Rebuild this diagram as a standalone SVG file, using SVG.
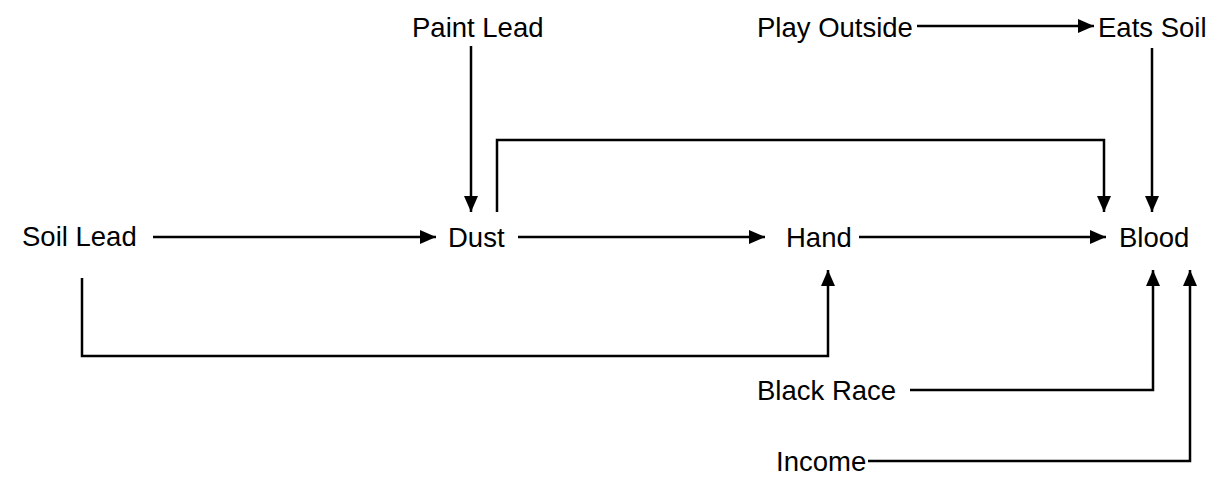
<svg xmlns="http://www.w3.org/2000/svg" width="1224" height="486" viewBox="0 0 1224 486">
<style>
text{font-family:"Liberation Sans",Arial,sans-serif;font-size:27.5px;fill:#000}
.c{fill:none;stroke:#000;stroke-width:2.5}
</style>
<defs>
<marker id="ah" viewBox="0 0 16 14" refX="16" refY="7" markerWidth="16" markerHeight="14" markerUnits="userSpaceOnUse" orient="auto">
<path d="M0,0 L16,7 L0,14 Z" fill="#000"/>
</marker>
</defs>
<rect width="1224" height="486" fill="#fff"/>
<g id="connectors">
<path class="c" d="M153,237 H436" marker-end="url(#ah)"/>
<path class="c" d="M518,237 H765" marker-end="url(#ah)"/>
<path class="c" d="M859,237 H1106" marker-end="url(#ah)"/>
<path class="c" d="M471,46 V212" marker-end="url(#ah)"/>
<path class="c" d="M497,212 V140 H1104 V212" marker-end="url(#ah)"/>
<path class="c" d="M917,26 H1094" marker-end="url(#ah)"/>
<path class="c" d="M1152,48 V212" marker-end="url(#ah)"/>
<path class="c" d="M82,278 V356 H828 V270" marker-end="url(#ah)"/>
<path class="c" d="M910,390 H1153 V270" marker-end="url(#ah)"/>
<path class="c" d="M868,461 H1190 V270" marker-end="url(#ah)"/>
</g>
<g id="soil-lead"><text x="22" y="246">Soil Lead</text></g>
<g id="dust"><text x="448" y="247">Dust</text></g>
<g id="hand"><text x="786" y="247">Hand</text></g>
<g id="blood"><text x="1119" y="247">Blood</text></g>
<g id="paint-lead"><text x="412" y="37">Paint Lead</text></g>
<g id="play-outside"><text x="757" y="37">Play Outside</text></g>
<g id="eats-soil"><text x="1098" y="37">Eats Soil</text></g>
<g id="black-race"><text x="757" y="400">Black Race</text></g>
<g id="income"><text x="776" y="471">Income</text></g>
</svg>
